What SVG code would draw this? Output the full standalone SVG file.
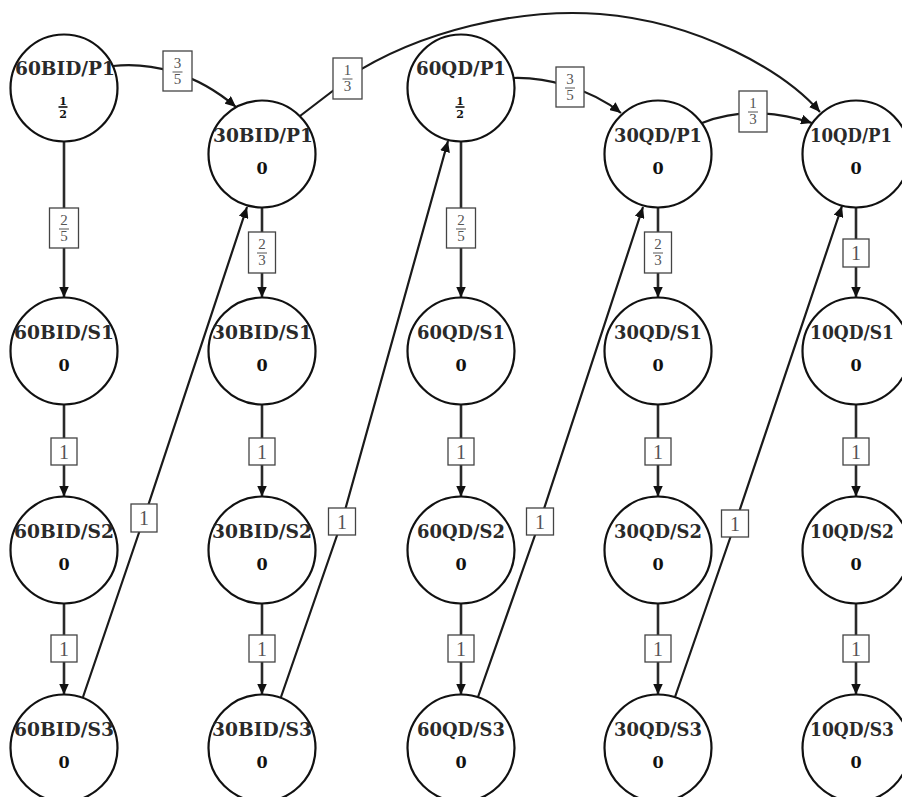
<svg xmlns="http://www.w3.org/2000/svg" width="902" height="797" viewBox="0 0 902 797">
<defs>
<marker id="ah" viewBox="0 0 11 10" refX="11" refY="5" markerWidth="11" markerHeight="10" markerUnits="userSpaceOnUse" orient="auto">
<path d="M0,0 L11,5 L0,10 z" fill="#111"/>
</marker>
<style>
.node circle{fill:none;stroke:#111;stroke-width:2.2}
.nl{font-family:"DejaVu Serif","Liberation Serif",serif;font-weight:bold;font-size:19px;fill:#2a2a2a;text-anchor:middle}
.nv{font-family:"DejaVu Serif","Liberation Serif",serif;font-weight:bold;font-size:16px;fill:#111;text-anchor:middle}
.nf{font-family:"DejaVu Serif","Liberation Serif",serif;font-weight:bold;font-size:11px;fill:#111;text-anchor:middle}
.fb{stroke:#111;stroke-width:1.6}
.e{fill:none;stroke:#1a1a1a;stroke-width:2.2;marker-end:url(#ah)}
.ev{fill:none;stroke:#2a2a2a;stroke-width:2.6;marker-end:url(#ah)}
.lb{fill:#fff;stroke:#444;stroke-width:1.3}
.lt{font-family:"Liberation Serif","DejaVu Serif",serif;font-size:20px;fill:#555;text-anchor:middle}
.lf{font-family:"Liberation Serif","DejaVu Serif",serif;font-size:15px;fill:#555;text-anchor:middle}
.lbar{stroke:#555;stroke-width:1}
</style>
</defs>
<rect width="902" height="797" fill="#fff"/>

<g id="edges">
<path class="e" d="M113,66 C150,62 195,72 236,107"/>
<path class="e" d="M300,116 L347,80 M347,78 C420,30 520,8 600,14 C700,22 785,72 820,112"/>
<path class="e" d="M513,78 C545,77 590,88 621,113"/>
<path class="e" d="M702,123 C725,114 760,106 812,123"/>
<path class="ev" d="M64,142 L64,297.5"/>
<path class="ev" d="M262,208 L262,297.5"/>
<path class="ev" d="M461,142 L461,297.5"/>
<path class="ev" d="M658,208 L658,297.5"/>
<path class="ev" d="M856,208 L856,297.5"/>
<path class="ev" d="M64,405 L64,496.5"/>
<path class="ev" d="M262,405 L262,496.5"/>
<path class="ev" d="M461,405 L461,496.5"/>
<path class="ev" d="M658,405 L658,496.5"/>
<path class="ev" d="M856,405 L856,496.5"/>
<path class="ev" d="M64,604 L64,694.5"/>
<path class="ev" d="M262,604 L262,694.5"/>
<path class="ev" d="M461,604 L461,694.5"/>
<path class="ev" d="M658,604 L658,694.5"/>
<path class="ev" d="M856,604 L856,694.5"/>
<path class="e" d="M83,697 L144,518 L247,207"/>
<path class="e" d="M281,697 L342,521 L448,141"/>
<path class="e" d="M478,697 L540,521 L643,207"/>
<path class="e" d="M675,697 L735,524 L842,206"/>

<g>
<rect class="lb" x="163" y="51" width="29" height="40"/>
<text class="lf" x="177.5" y="68">3</text><line class="lbar" x1="172.5" y1="72" x2="182.5" y2="72"/><text class="lf" x="177.5" y="84">5</text>
</g>
<g>
<rect class="lb" x="333" y="58" width="29" height="41"/>
<text class="lf" x="347.5" y="75">1</text><line class="lbar" x1="342.5" y1="79" x2="352.5" y2="79"/><text class="lf" x="347.5" y="91">3</text>
</g>
<g>
<rect class="lb" x="556" y="67" width="28" height="40"/>
<text class="lf" x="570" y="84">3</text><line class="lbar" x1="565" y1="88" x2="575" y2="88"/><text class="lf" x="570" y="100">5</text>
</g>
<g>
<rect class="lb" x="739" y="91" width="28" height="41"/>
<text class="lf" x="753" y="108">1</text><line class="lbar" x1="748" y1="112" x2="758" y2="112"/><text class="lf" x="753" y="124">3</text>
</g>
<g>
<rect class="lb" x="49.5" y="208" width="29" height="40"/>
<text class="lf" x="64" y="225">2</text><line class="lbar" x1="59" y1="229" x2="69" y2="229"/><text class="lf" x="64" y="241">5</text>
</g>
<g>
<rect class="lb" x="248.5" y="232" width="27" height="41"/>
<text class="lf" x="262" y="249">2</text><line class="lbar" x1="257" y1="253" x2="267" y2="253"/><text class="lf" x="262" y="265">3</text>
</g>
<g>
<rect class="lb" x="446.5" y="208" width="29" height="40"/>
<text class="lf" x="461" y="225">2</text><line class="lbar" x1="456" y1="229" x2="466" y2="229"/><text class="lf" x="461" y="241">5</text>
</g>
<g>
<rect class="lb" x="644.5" y="232" width="27" height="41"/>
<text class="lf" x="658" y="249">2</text><line class="lbar" x1="653" y1="253" x2="663" y2="253"/><text class="lf" x="658" y="265">3</text>
</g>
<rect class="lb" x="843" y="239" width="26" height="28"/><text class="lt" x="856" y="260">1</text>

<rect class="lb" x="51" y="438" width="26" height="27"/><text class="lt" x="64" y="458.5">1</text>
<rect class="lb" x="249" y="438" width="26" height="27"/><text class="lt" x="262" y="458.5">1</text>
<rect class="lb" x="448" y="438" width="26" height="27"/><text class="lt" x="461" y="458.5">1</text>
<rect class="lb" x="645" y="438" width="26" height="27"/><text class="lt" x="658" y="458.5">1</text>
<rect class="lb" x="843" y="438" width="26" height="27"/><text class="lt" x="856" y="458.5">1</text>

<rect class="lb" x="51" y="635" width="26" height="27"/><text class="lt" x="64" y="655.5">1</text>
<rect class="lb" x="249" y="635" width="26" height="27"/><text class="lt" x="262" y="655.5">1</text>
<rect class="lb" x="448" y="635" width="26" height="27"/><text class="lt" x="461" y="655.5">1</text>
<rect class="lb" x="645" y="635" width="26" height="27"/><text class="lt" x="658" y="655.5">1</text>
<rect class="lb" x="843" y="635" width="26" height="27"/><text class="lt" x="856" y="655.5">1</text>

<rect class="lb" x="131" y="504" width="26" height="28"/><text class="lt" x="144" y="525">1</text>
<rect class="lb" x="328.5" y="508" width="27" height="27"/><text class="lt" x="342" y="528.5">1</text>
<rect class="lb" x="526.5" y="508" width="27" height="27"/><text class="lt" x="540" y="528.5">1</text>
<rect class="lb" x="721.5" y="510" width="27" height="27"/><text class="lt" x="735" y="530.5">1</text>
</g>

<g id="n60BID_P1" class="node"><circle cx="64" cy="88" r="53.5"/><text class="nl" x="65" y="75" textLength="100" lengthAdjust="spacingAndGlyphs">60BID/P1</text><text class="nf" x="63" y="104.5">1</text><line class="fb" x1="58.5" y1="107" x2="67.5" y2="107"/><text class="nf" x="63" y="118">2</text></g>
<g id="n30BID_P1" class="node"><circle cx="262" cy="154" r="53.5"/><text class="nl" x="263" y="142" textLength="100" lengthAdjust="spacingAndGlyphs">30BID/P1</text><text class="nv" x="262" y="174">0</text></g>
<g id="n60QD_P1" class="node"><circle cx="461" cy="88" r="53.5"/><text class="nl" x="461" y="75" textLength="90" lengthAdjust="spacingAndGlyphs">60QD/P1</text><text class="nf" x="460" y="104.5">1</text><line class="fb" x1="455.5" y1="107" x2="464.5" y2="107"/><text class="nf" x="460" y="118">2</text></g>
<g id="n30QD_P1" class="node"><circle cx="658" cy="154" r="53.5"/><text class="nl" x="658" y="142" textLength="88" lengthAdjust="spacingAndGlyphs">30QD/P1</text><text class="nv" x="658" y="174">0</text></g>
<g id="n10QD_P1" class="node"><circle cx="856" cy="154" r="53.5"/><text class="nl" x="851" y="142" textLength="82" lengthAdjust="spacingAndGlyphs">10QD/P1</text><text class="nv" x="856" y="174">0</text></g>

<g id="n60BID_S1" class="node"><circle cx="64" cy="351" r="53.5"/><text class="nl" x="64" y="339" textLength="100" lengthAdjust="spacingAndGlyphs">60BID/S1</text><text class="nv" x="64" y="371">0</text></g>
<g id="n30BID_S1" class="node"><circle cx="262" cy="351" r="53.5"/><text class="nl" x="262" y="339" textLength="100" lengthAdjust="spacingAndGlyphs">30BID/S1</text><text class="nv" x="262" y="371">0</text></g>
<g id="n60QD_S1" class="node"><circle cx="461" cy="351" r="53.5"/><text class="nl" x="461" y="339" textLength="88" lengthAdjust="spacingAndGlyphs">60QD/S1</text><text class="nv" x="461" y="371">0</text></g>
<g id="n30QD_S1" class="node"><circle cx="658" cy="351" r="53.5"/><text class="nl" x="658" y="339" textLength="88" lengthAdjust="spacingAndGlyphs">30QD/S1</text><text class="nv" x="658" y="371">0</text></g>
<g id="n10QD_S1" class="node"><circle cx="856" cy="351" r="53.5"/><text class="nl" x="852" y="339" textLength="84" lengthAdjust="spacingAndGlyphs">10QD/S1</text><text class="nv" x="856" y="371">0</text></g>

<g id="n60BID_S2" class="node"><circle cx="64" cy="550" r="53.5"/><text class="nl" x="64" y="538" textLength="100" lengthAdjust="spacingAndGlyphs">60BID/S2</text><text class="nv" x="64" y="570">0</text></g>
<g id="n30BID_S2" class="node"><circle cx="262" cy="550" r="53.5"/><text class="nl" x="262" y="538" textLength="100" lengthAdjust="spacingAndGlyphs">30BID/S2</text><text class="nv" x="262" y="570">0</text></g>
<g id="n60QD_S2" class="node"><circle cx="461" cy="550" r="53.5"/><text class="nl" x="461" y="538" textLength="88" lengthAdjust="spacingAndGlyphs">60QD/S2</text><text class="nv" x="461" y="570">0</text></g>
<g id="n30QD_S2" class="node"><circle cx="658" cy="550" r="53.5"/><text class="nl" x="658" y="538" textLength="88" lengthAdjust="spacingAndGlyphs">30QD/S2</text><text class="nv" x="658" y="570">0</text></g>
<g id="n10QD_S2" class="node"><circle cx="856" cy="550" r="53.5"/><text class="nl" x="852" y="538" textLength="84" lengthAdjust="spacingAndGlyphs">10QD/S2</text><text class="nv" x="856" y="570">0</text></g>

<g id="n60BID_S3" class="node"><circle cx="64" cy="748" r="53.5"/><text class="nl" x="64" y="736" textLength="100" lengthAdjust="spacingAndGlyphs">60BID/S3</text><text class="nv" x="64" y="768">0</text></g>
<g id="n30BID_S3" class="node"><circle cx="262" cy="748" r="53.5"/><text class="nl" x="262" y="736" textLength="100" lengthAdjust="spacingAndGlyphs">30BID/S3</text><text class="nv" x="262" y="768">0</text></g>
<g id="n60QD_S3" class="node"><circle cx="461" cy="748" r="53.5"/><text class="nl" x="461" y="736" textLength="88" lengthAdjust="spacingAndGlyphs">60QD/S3</text><text class="nv" x="461" y="768">0</text></g>
<g id="n30QD_S3" class="node"><circle cx="658" cy="748" r="53.5"/><text class="nl" x="658" y="736" textLength="88" lengthAdjust="spacingAndGlyphs">30QD/S3</text><text class="nv" x="658" y="768">0</text></g>
<g id="n10QD_S3" class="node"><circle cx="856" cy="748" r="53.5"/><text class="nl" x="852" y="736" textLength="84" lengthAdjust="spacingAndGlyphs">10QD/S3</text><text class="nv" x="856" y="768">0</text></g>
</svg>
